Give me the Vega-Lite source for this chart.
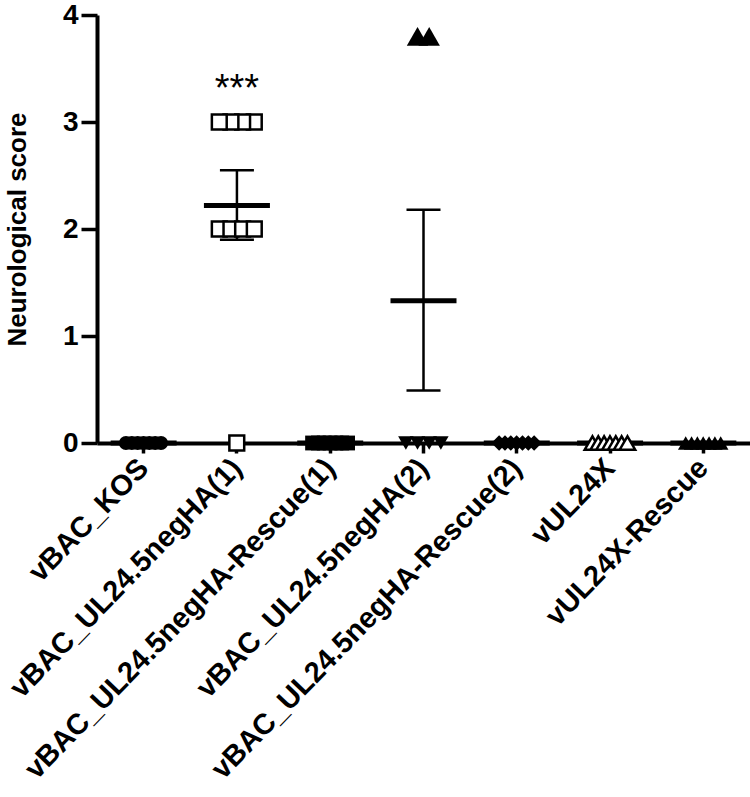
{
  "$schema": "https://vega.github.io/schema/vega-lite/v6.json",
  "autosize": "none",
  "width": 653,
  "height": 428,
  "padding": {"left": 97, "top": 15, "right": 0, "bottom": 354},
  "background": "white",
  "config": {
    "view": {"stroke": null},
    "point": {"opacity": 1},
    "tick": {"opacity": 1},
    "axis": {
      "domainColor": "black",
      "domainWidth": 4,
      "tickColor": "black",
      "tickWidth": 3.5,
      "labelFont": "Liberation Sans",
      "labelFontWeight": "bold",
      "labelColor": "black",
      "titleFont": "Liberation Sans",
      "titleFontWeight": "bold",
      "titleColor": "black",
      "grid": false
    }
  },
  "datasets": {
    "points": [
      {"group": "vBAC_KOS", "score": 0, "rep": 1},
      {"group": "vBAC_KOS", "score": 0, "rep": 2},
      {"group": "vBAC_KOS", "score": 0, "rep": 3},
      {"group": "vBAC_KOS", "score": 0, "rep": 4},
      {"group": "vBAC_KOS", "score": 0, "rep": 5},
      {"group": "vBAC_KOS", "score": 0, "rep": 6},
      {"group": "vBAC_KOS", "score": 0, "rep": 7},
      {"group": "vBAC_UL24.5negHA(1)", "score": 3, "rep": 7},
      {"group": "vBAC_UL24.5negHA(1)", "score": 3, "rep": 5},
      {"group": "vBAC_UL24.5negHA(1)", "score": 3, "rep": 3},
      {"group": "vBAC_UL24.5negHA(1)", "score": 3, "rep": 1},
      {"group": "vBAC_UL24.5negHA(1)", "score": 2, "rep": 1},
      {"group": "vBAC_UL24.5negHA(1)", "score": 2, "rep": 3},
      {"group": "vBAC_UL24.5negHA(1)", "score": 2, "rep": 5},
      {"group": "vBAC_UL24.5negHA(1)", "score": 2, "rep": 7},
      {"group": "vBAC_UL24.5negHA(1)", "score": 0, "rep": 4},
      {"group": "vBAC_UL24.5negHA-Rescue(1)", "score": 0, "rep": 1},
      {"group": "vBAC_UL24.5negHA-Rescue(1)", "score": 0, "rep": 2},
      {"group": "vBAC_UL24.5negHA-Rescue(1)", "score": 0, "rep": 3},
      {"group": "vBAC_UL24.5negHA-Rescue(1)", "score": 0, "rep": 4},
      {"group": "vBAC_UL24.5negHA-Rescue(1)", "score": 0, "rep": 5},
      {"group": "vBAC_UL24.5negHA-Rescue(1)", "score": 0, "rep": 6},
      {"group": "vBAC_UL24.5negHA-Rescue(1)", "score": 0, "rep": 7},
      {"group": "vBAC_UL24.5negHA(2)", "score": 3.8, "rep": 3},
      {"group": "vBAC_UL24.5negHA(2)", "score": 3.8, "rep": 5},
      {"group": "vBAC_UL24.5negHA(2)", "score": 0, "rep": 1},
      {"group": "vBAC_UL24.5negHA(2)", "score": 0, "rep": 3},
      {"group": "vBAC_UL24.5negHA(2)", "score": 0, "rep": 5},
      {"group": "vBAC_UL24.5negHA(2)", "score": 0, "rep": 7},
      {"group": "vBAC_UL24.5negHA-Rescue(2)", "score": 0, "rep": 1},
      {"group": "vBAC_UL24.5negHA-Rescue(2)", "score": 0, "rep": 2},
      {"group": "vBAC_UL24.5negHA-Rescue(2)", "score": 0, "rep": 3},
      {"group": "vBAC_UL24.5negHA-Rescue(2)", "score": 0, "rep": 4},
      {"group": "vBAC_UL24.5negHA-Rescue(2)", "score": 0, "rep": 5},
      {"group": "vBAC_UL24.5negHA-Rescue(2)", "score": 0, "rep": 6},
      {"group": "vBAC_UL24.5negHA-Rescue(2)", "score": 0, "rep": 7},
      {"group": "vUL24X", "score": 0, "rep": 1},
      {"group": "vUL24X", "score": 0, "rep": 2},
      {"group": "vUL24X", "score": 0, "rep": 3},
      {"group": "vUL24X", "score": 0, "rep": 4},
      {"group": "vUL24X", "score": 0, "rep": 5},
      {"group": "vUL24X", "score": 0, "rep": 6},
      {"group": "vUL24X", "score": 0, "rep": 7},
      {"group": "vUL24X-Rescue", "score": 0, "rep": 1},
      {"group": "vUL24X-Rescue", "score": 0, "rep": 2},
      {"group": "vUL24X-Rescue", "score": 0, "rep": 3},
      {"group": "vUL24X-Rescue", "score": 0, "rep": 4},
      {"group": "vUL24X-Rescue", "score": 0, "rep": 5},
      {"group": "vUL24X-Rescue", "score": 0, "rep": 6},
      {"group": "vUL24X-Rescue", "score": 0, "rep": 7}
    ],
    "summary": [
      {"group": "vBAC_KOS", "mean": 0, "lo": 0, "hi": 0},
      {"group": "vBAC_UL24.5negHA(1)", "mean": 2.22, "lo": 1.9, "hi": 2.55},
      {"group": "vBAC_UL24.5negHA-Rescue(1)", "mean": 0, "lo": 0, "hi": 0},
      {"group": "vBAC_UL24.5negHA(2)", "mean": 1.33, "lo": 0.49, "hi": 2.18},
      {"group": "vBAC_UL24.5negHA-Rescue(2)", "mean": 0, "lo": 0, "hi": 0},
      {"group": "vUL24X", "mean": 0, "lo": 0, "hi": 0},
      {"group": "vUL24X-Rescue", "mean": 0, "lo": 0, "hi": 0}
    ],
    "signif": [
      {"group": "vBAC_UL24.5negHA(1)", "score": 3.2, "label": "***"}
    ]
  },
  "encoding": {
    "x": {
      "field": "group",
      "type": "nominal",
      "sort": null,
      "scale": {
        "domain": ["vBAC_KOS", "vBAC_UL24.5negHA(1)", "vBAC_UL24.5negHA-Rescue(1)", "vBAC_UL24.5negHA(2)", "vBAC_UL24.5negHA-Rescue(2)", "vUL24X", "vUL24X-Rescue"],
        "paddingInner": 0,
        "paddingOuter": 0
      },
      "axis": {
        "title": null,
        "labelAngle": -46,
        "labelAlign": "right",
        "labelBaseline": "middle",
        "labelFontSize": 29,
        "labelPadding": 10,
        "tickSize": 10,
        "labelLimit": 0
      }
    }
  },
  "layer": [
    {
      "data": {"name": "summary"},
      "mark": {"type": "rule", "color": "black", "strokeWidth": 2.5},
      "encoding": {
        "y": {"field": "lo", "type": "quantitative", "scale": {"domain": [0, 4], "nice": false},
          "axis": {"title": "Neurological score", "titleFontSize": 26, "titlePadding": 32, "values": [0, 1, 2, 3, 4], "format": "d", "labelFontSize": 28, "tickSize": 16, "labelPadding": 3}},
        "y2": {"field": "hi"}
      }
    },
    {
      "data": {"name": "summary"},
      "mark": {"type": "tick", "color": "black", "size": 34, "thickness": 2.5},
      "encoding": {"y": {"field": "lo", "type": "quantitative"}}
    },
    {
      "data": {"name": "summary"},
      "mark": {"type": "tick", "color": "black", "size": 34, "thickness": 2.5},
      "encoding": {"y": {"field": "hi", "type": "quantitative"}}
    },
    {
      "data": {"name": "summary"},
      "mark": {"type": "tick", "color": "black", "size": 66, "thickness": 5},
      "encoding": {"y": {"field": "mean", "type": "quantitative"}}
    },
    {
      "data": {"name": "points"},
      "transform": [{"filter": "datum.group === 'vBAC_KOS'"}],
      "mark": {"type": "point", "shape": "circle", "filled": true, "color": "black", "size": 200},
      "encoding": {
        "y": {"field": "score", "type": "quantitative"},
        "xOffset": {"field": "rep", "type": "nominal", "scale": {"domain": [1, 2, 3, 4, 5, 6, 7], "range": [29, 64], "paddingInner": 0, "paddingOuter": 0}}
      }
    },
    {
      "data": {"name": "points"},
      "transform": [{"filter": "datum.group === 'vBAC_UL24.5negHA(1)'"}],
      "mark": {"type": "point", "shape": "square", "filled": true, "fill": "white", "stroke": "black", "strokeWidth": 2.5, "size": 220},
      "encoding": {
        "y": {"field": "score", "type": "quantitative"},
        "xOffset": {"field": "rep", "type": "nominal"}
      }
    },
    {
      "data": {"name": "points"},
      "transform": [{"filter": "datum.group === 'vBAC_UL24.5negHA-Rescue(1)'"}],
      "mark": {"type": "point", "shape": "square", "filled": true, "color": "black", "size": 220},
      "encoding": {
        "y": {"field": "score", "type": "quantitative"},
        "xOffset": {"field": "rep", "type": "nominal"}
      }
    },
    {
      "data": {"name": "points"},
      "transform": [{"filter": "datum.group === 'vBAC_UL24.5negHA(2)' && datum.score > 0"}],
      "mark": {"type": "point", "shape": "triangle-up", "filled": true, "color": "black", "size": 460},
      "encoding": {
        "y": {"field": "score", "type": "quantitative"},
        "xOffset": {"field": "rep", "type": "nominal"}
      }
    },
    {
      "data": {"name": "points"},
      "transform": [{"filter": "datum.group === 'vBAC_UL24.5negHA(2)' && datum.score === 0"}],
      "mark": {"type": "point", "shape": "triangle-down", "filled": true, "color": "black", "size": 240},
      "encoding": {
        "y": {"field": "score", "type": "quantitative"},
        "xOffset": {"field": "rep", "type": "nominal"}
      }
    },
    {
      "data": {"name": "points"},
      "transform": [{"filter": "datum.group === 'vBAC_UL24.5negHA-Rescue(2)'"}],
      "mark": {"type": "point", "shape": "diamond", "filled": true, "color": "black", "size": 240},
      "encoding": {
        "y": {"field": "score", "type": "quantitative"},
        "xOffset": {"field": "rep", "type": "nominal"}
      }
    },
    {
      "data": {"name": "points"},
      "transform": [{"filter": "datum.group === 'vUL24X'"}],
      "mark": {"type": "point", "shape": "triangle-up", "filled": true, "fill": "white", "stroke": "black", "strokeWidth": 2.5, "size": 240},
      "encoding": {
        "y": {"field": "score", "type": "quantitative"},
        "xOffset": {"field": "rep", "type": "nominal"}
      }
    },
    {
      "data": {"name": "points"},
      "transform": [{"filter": "datum.group === 'vUL24X-Rescue'"}],
      "mark": {"type": "point", "shape": "triangle-up", "filled": true, "color": "black", "size": 240},
      "encoding": {
        "y": {"field": "score", "type": "quantitative"},
        "xOffset": {"field": "rep", "type": "nominal"}
      }
    },
    {
      "data": {"name": "signif"},
      "mark": {"type": "text", "font": "Liberation Sans", "fontSize": 38, "baseline": "alphabetic", "align": "center", "color": "black"},
      "encoding": {
        "y": {"field": "score", "type": "quantitative"},
        "text": {"field": "label"}
      }
    }
  ]
}
